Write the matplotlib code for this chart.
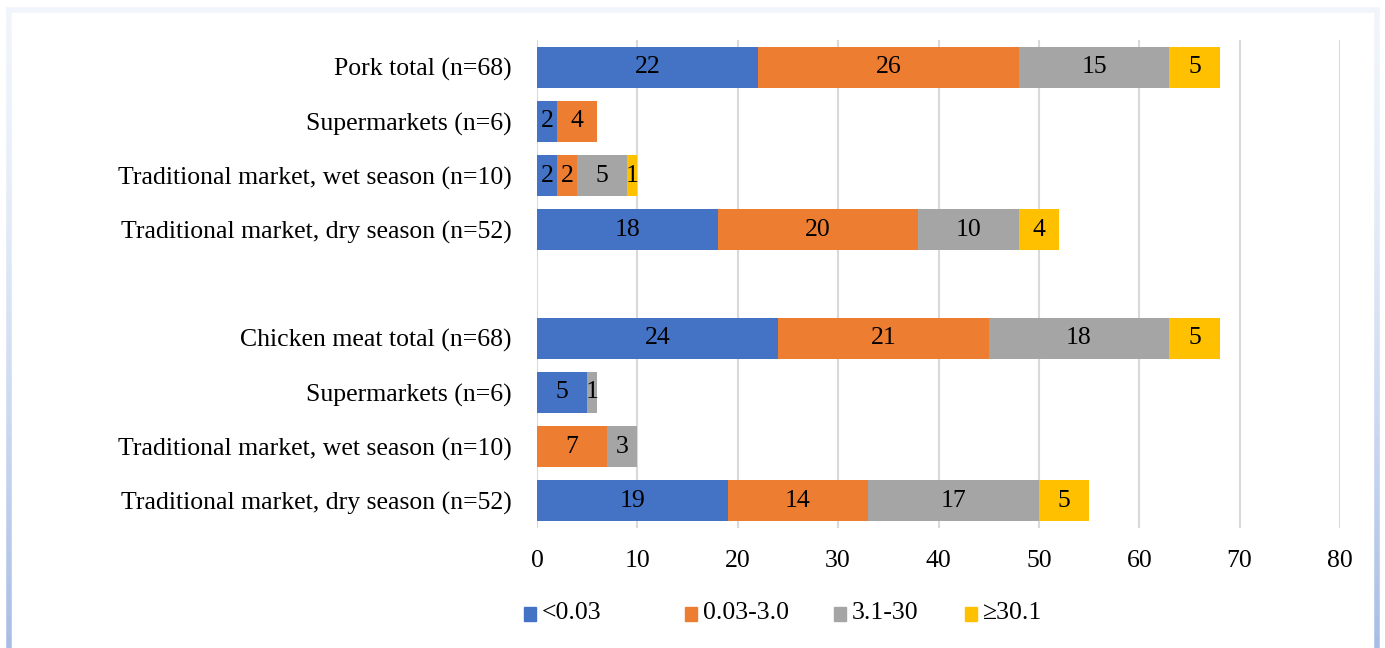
import numpy as np
import matplotlib
matplotlib.use("Agg")
import matplotlib.pyplot as plt
from matplotlib.patches import Rectangle
from matplotlib.collections import LineCollection

categories = ["Pork total (n=68)", "Supermarkets (n=6)",
              "Traditional market, wet season (n=10)",
              "Traditional market, dry season (n=52)", "",
              "Chicken meat total (n=68)", "Supermarkets (n=6)",
              "Traditional market, wet season (n=10)",
              "Traditional market, dry season (n=52)"]
series_names = ["<0.03", "0.03-3.0", "3.1-30", "\u226530.1"]
s_lt003 = [22, 2, 2, 18, 0, 24, 5, 0, 19]
s_003_3 = [26, 4, 2, 20, 0, 21, 0, 7, 14]
s_3_30 = [15, 0, 5, 10, 0, 18, 1, 3, 17]
s_ge30 = [5, 0, 1, 4, 0, 5, 0, 0, 5]
x_ticks = [0, 10, 20, 30, 40, 50, 60, 70, 80]

colors = ["#4472C4", "#ED7D31", "#A5A5A5", "#FFC000"]
FONT = "Liberation Serif"
FS = 18.5
plt.rcParams['font.family'] = [FONT, 'DejaVu Serif']

W, H = 1385, 648
fig = plt.figure(figsize=(W / 100, H / 100), dpi=100)
ax = fig.add_axes([537 / W, 1 - 528 / H, (1340 - 537) / W, (528 - 40) / H])

y = np.arange(len(categories))
left = np.zeros(len(categories))
for vals, c in zip([s_lt003, s_003_3, s_3_30, s_ge30], colors):
    vals = np.array(vals, dtype=float)
    bars = ax.barh(y, vals, left=left, height=0.755, color=c, zorder=3)
    labels = [str(int(v)) if v > 0 else "" for v in vals]
    ax.bar_label(bars, labels=labels, label_type="center", fontsize=FS,
                 color="black", family=FONT)
    left += vals

ax.set_ylim(len(categories) - 0.5, -0.5)
ax.set_xlim(0, 80)
ax.set_xticks(x_ticks)
ax.set_xticklabels([str(t) for t in x_ticks])
ax.set_yticks(y)
ax.set_yticklabels(categories)
ax.tick_params(axis="both", length=0, labelsize=FS)
ax.tick_params(axis="y", pad=18)
ax.tick_params(axis="x", pad=16)
ax.xaxis.grid(True, color="#D9D9D9", linewidth=1.5, zorder=0)
ax.yaxis.grid(False)
for s in ax.spines.values():
    s.set_visible(False)

# legend drawn in figure coords
leg_x = [524, 685, 834, 965]
for xp, name, c in zip(leg_x, series_names, colors):
    fig.patches.append(Rectangle((xp / W, 1 - 621 / H), 12 / W, 14 / H,
                                 transform=fig.transFigure, color=c))
    fig.text((xp + 18) / W, 1 - 613 / H, name, fontsize=FS, va="center",
             ha="left", family=FONT)

# frame border
n = 60
ys = np.linspace(1 - 10 / H, 0, n + 1)
c0 = np.array([0.94, 0.96, 0.985])
c1 = np.array([0.66, 0.74, 0.90])
segs_l, segs_r, cols = [], [], []
for i in range(n):
    t = (i / (n - 1)) ** 1.5
    segs_l.append([(8.5 / W, ys[i]), (8.5 / W, ys[i + 1])])
    segs_r.append([(1377 / W, ys[i]), (1377 / W, ys[i + 1])])
    cols.append(tuple(c0 + (c1 - c0) * t))
fig.add_artist(LineCollection(segs_l, colors=cols, linewidths=4,
                              transform=fig.transFigure))
fig.add_artist(LineCollection(segs_r, colors=cols, linewidths=4,
                              transform=fig.transFigure))
fig.add_artist(LineCollection([[(6 / W, 1 - 10 / H), (1380 / W, 1 - 10 / H)]],
                              colors=[tuple(c0)], linewidths=4,
                              transform=fig.transFigure))

fig.savefig("out.png", dpi=100, facecolor="white")
